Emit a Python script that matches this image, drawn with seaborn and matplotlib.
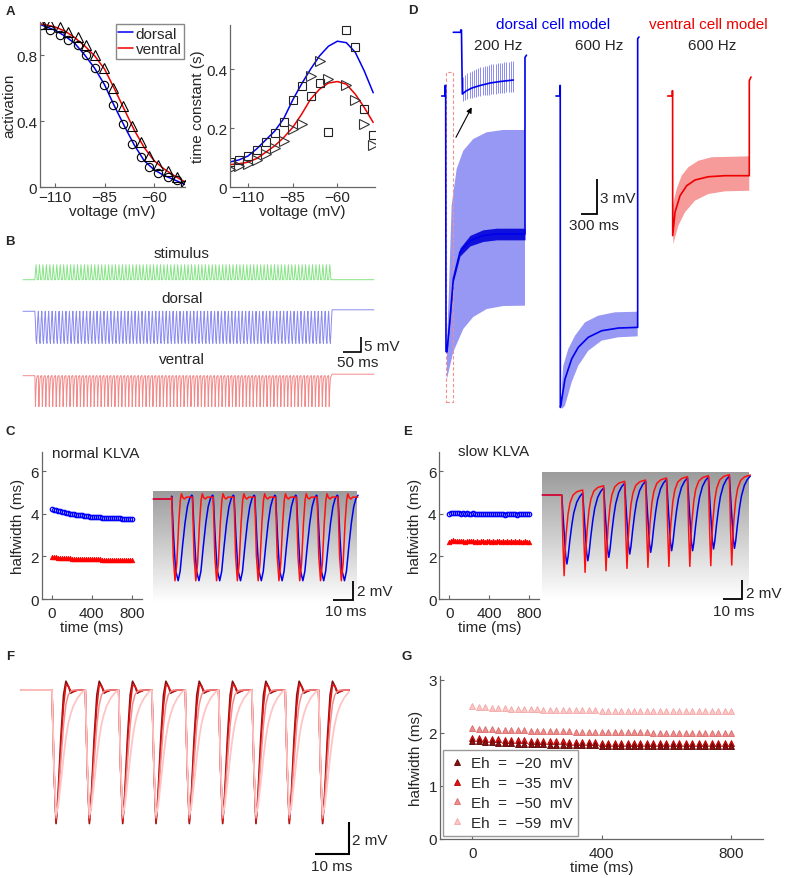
import numpy as np
import matplotlib
matplotlib.use("Agg")
import matplotlib.pyplot as plt
from matplotlib.colors import LinearSegmentedColormap
from matplotlib.lines import Line2D
from matplotlib.patches import Rectangle
import seaborn as sns

# ---------------- values ----------------
# A left: steady-state activation
act_volt = [-116.9, -112.5, -107.5, -103.3, -98.6, -94.3, -89.8, -85.1, -80.5,
            -75.8, -71.3, -66.7, -62.4, -57.8, -53.1, -48.5, -44.3]
act_dorsal = [0.98, 0.95, 0.92, 0.89, 0.86, 0.80, 0.72, 0.62, 0.50,
              0.38, 0.26, 0.18, 0.12, 0.085, 0.06, 0.04, 0.01]
act_ventral = [0.99, 0.99, 0.97, 0.94, 0.91, 0.86, 0.80, 0.72, 0.60,
               0.49, 0.37, 0.27, 0.19, 0.135, 0.10, 0.06, 0.01]
fit_act_volt = [-117.6, -110, -105, -100, -95, -90, -85, -80, -75, -70, -65, -60, -55, -50, -44.3]
fit_act_dorsal = [0.985, 0.95, 0.915, 0.87, 0.80, 0.72, 0.62, 0.49, 0.37, 0.255, 0.16, 0.105, 0.07, 0.045, 0.015]
fit_act_ventral = [0.99, 0.97, 0.945, 0.905, 0.855, 0.795, 0.715, 0.595, 0.47, 0.345, 0.24, 0.16, 0.11, 0.07, 0.03]

# A right: time constants (s)
tau_volt = [-120, -115, -110, -105, -100, -95, -90, -85, -80, -75, -70, -65, -55, -50, -45, -40]
tau_dorsal = [0.084, 0.093, 0.104, 0.126, 0.154, 0.185, 0.221, 0.296, 0.343, 0.310,
              0.353, 0.187, 0.533, 0.476, 0.264, 0.177]
tau_ventral = [0.061, 0.070, 0.078, 0.093, 0.112, 0.134, 0.157, 0.197, 0.214, 0.377,
               0.428, 0.366, 0.346, 0.295, 0.214, 0.143]
fit_tau_volt = [-120, -115, -110, -105, -100, -95, -90, -85, -80, -75, -70, -65, -60, -55, -50, -45, -40]
fit_tau_dorsal = [0.085, 0.092, 0.105, 0.13, 0.16, 0.19, 0.232, 0.295, 0.35, 0.40,
                  0.445, 0.478, 0.495, 0.49, 0.457, 0.394, 0.32]
fit_tau_ventral = [0.076, 0.079, 0.084, 0.097, 0.118, 0.14, 0.168, 0.202, 0.247, 0.298,
                   0.332, 0.353, 0.358, 0.349, 0.315, 0.27, 0.219]

# B: one cycle of each trace (ms, mV) and the train
b_cycle_t = [0, 1.6, 3.2, 4.8, 6.4, 8.0]
b_stim_cycle = [0, 2.5, 5.0, 2.5, 0.0, 0.0]
b_dorsal_cycle = [0, -4.0, -9.5, -10.7, -7.0, -2.5]
b_ventral_cycle = [0, -10.3, -4.0, -1.0, -0.2, 0.0]
b_onset, b_period, b_cycles, b_end = 33, 9.6, 86, 975
b_post = [0.0, 0.5, 0.5]

# C / E: halfwidth (ms) every 20 ms
hw_time = list(range(0, 801, 20))
c_dorsal = [4.21, 4.19, 4.17, 4.15, 4.12, 4.10, 4.08, 4.06, 4.03, 4.01,
            3.99, 3.98, 3.96, 3.95, 3.93, 3.92, 3.90, 3.89, 3.88, 3.87,
            3.86, 3.85, 3.84, 3.84, 3.83, 3.82, 3.81, 3.81, 3.80, 3.80,
            3.79, 3.79, 3.78, 3.78, 3.78, 3.77, 3.77, 3.76, 3.76, 3.76, 3.75]
c_ventral = [1.96, 1.95, 1.95, 1.94, 1.93, 1.93, 1.92, 1.92, 1.91, 1.91,
             1.90, 1.90, 1.89, 1.89, 1.89, 1.88, 1.88, 1.88, 1.87, 1.87,
             1.87, 1.86, 1.86, 1.86, 1.86, 1.85, 1.85, 1.85, 1.85, 1.84,
             1.84, 1.84, 1.84, 1.84, 1.83, 1.83, 1.83, 1.83, 1.83, 1.82, 1.82]
e_dorsal = [3.98, 4.03, 4.05, 4.04, 4.02, 4.04, 4.01, 4.03, 4.00, 4.02,
            3.99, 4.01, 4.02, 3.99, 4.01, 3.98, 4.00, 3.98, 4.01, 3.99,
            3.97, 4.00, 3.98, 3.97, 3.99, 4.00, 3.97, 3.99, 3.96, 3.98,
            4.00, 3.97, 3.99, 3.98, 3.96, 3.99, 4.00, 3.97, 3.98, 4.00, 3.98]
e_ventral = [2.66, 2.72, 2.75, 2.73, 2.71, 2.74, 2.70, 2.72, 2.69, 2.73,
             2.71, 2.70, 2.72, 2.69, 2.71, 2.68, 2.70, 2.72, 2.69, 2.71,
             2.70, 2.68, 2.71, 2.69, 2.70, 2.72, 2.68, 2.70, 2.69, 2.71,
             2.68, 2.70, 2.69, 2.71, 2.68, 2.70, 2.69, 2.67, 2.70, 2.69, 2.68]

# C: one cycle of the voltage traces (ms after drop, mV)
c_red_t = [0, 0.8, 1.7, 2.6, 3.6, 4.4, 5.0, 5.7, 6.5, 7.5, 10.0]
c_red_v = [0.2, -6.0, -8.6, -6.8, -2.5, -0.1, 0.55, 0.15, 0.0, 0.2, 0.2]
c_blue_t = [0, 1.0, 2.0, 3.3, 4.3, 5.5, 6.8, 8.0, 9.2, 10.2]
c_blue_v = [0.3, -4.0, -7.5, -8.6, -7.6, -5.0, -2.5, -0.8, 0.1, 0.4]
c_onset, c_period, c_cycles = 9.3, 10.56, 9

# E: per-cycle troughs and peaks (mV), normalised drop / recovery shapes
e_red_bottom = [-8.49, -8.14, -7.97, -7.72, -7.61, -7.51, -7.51, -7.44, -7.37]
e_red_peak = [0.53, 0.98, 1.44, 1.58, 1.79, 1.93, 2.03, 2.14, 2.10]
e_blue_bottom = [-7.26, -6.92, -6.56, -6.21, -6.03, -5.86, -5.86, -5.68, -5.61]
e_blue_peak = [0.20, 0.75, 1.25, 1.45, 1.65, 1.80, 1.90, 2.00, 2.00]
e_red_drop_t, e_red_drop_f = [0, 0.6, 1.2], [0, 0.6, 1.0]
e_red_rise_t = [0.5, 1.0, 2.0, 3.0, 4.5, 6.5, 9.44]
e_red_rise_f = [0.28, 0.48, 0.72, 0.85, 0.94, 0.98, 1.0]
e_blue_drop_t, e_blue_drop_f = [0, 1.0, 2.0, 2.6], [0, 0.45, 0.88, 1.0]
e_blue_rise_t = [0.6, 1.5, 2.5, 3.5, 5.0, 6.5, 8.04]
e_blue_rise_f = [0.10, 0.33, 0.55, 0.72, 0.87, 0.95, 1.0]
e_onset, e_period = 9.85, 10.64

# D: traces (ms from trace start, mV from rest)
d200_start_t, d200_start_v = [0, 62, 62, 75, 81], [0, 0, 0.9, 0.9, -21.9]
d200_mean_t = [99, 156, 218, 343, 531, 774, 1031, 1562]
d200_mean_v = [-21.94, -19.11, -15.69, -13.37, -12.40, -11.97, -11.83, -11.83]
d200_band = [0.05, 0.15, 0.25, 0.35, 0.45, 0.5, 0.5, 0.5]
d200_top_t = [99, 137, 187, 281, 405, 592, 844, 1156, 1562]
d200_top_v = [-21.26, -16.54, -9.40, -6.26, -4.69, -3.69, -3.11, -2.91, -2.91]
d200_bot_t = [99, 218, 405, 592, 844, 1156, 1562]
d200_bot_v = [-24.26, -21.94, -19.97, -18.94, -18.26, -18.0, -17.97]
d200_end_t, d200_end_v = [1562, 1590], [3.3, 3.5]

d600_start_t, d600_start_v = [0, 75, 75, 80, 82], [0, 0, 0.9, 0.9, -26.7]
d600_mean_t = [85, 169, 294, 418, 606, 857, 1168, 1532]
d600_mean_v = [-26.68, -24.26, -22.54, -21.54, -20.68, -20.12, -19.89, -19.83]
d600_top_t = [112, 137, 231, 356, 544, 793, 1106, 1532]
d600_top_v = [-24.77, -23.12, -21.69, -20.55, -19.40, -18.83, -18.54, -18.49]
d600_bot_t = [112, 169, 294, 418, 606, 857, 1168, 1532]
d600_bot_v = [-26.83, -26.54, -24.54, -23.12, -21.83, -20.97, -20.68, -20.60]
d600_end_t, d600_end_v = [1532, 1556], [4.9, 5.06]

v600_start_t, v600_start_v = [0, 86, 86, 92, 94], [0, 0, 0.45, 0.45, -11.97]
v600_mean_t = [94, 137, 231, 356, 512, 762, 1074, 1530]
v600_mean_v = [-11.97, -9.97, -8.55, -7.69, -7.20, -6.92, -6.83, -6.83]
v600_top_t = [94, 169, 262, 386, 574, 825, 1530]
v600_top_v = [-9.40, -7.97, -6.83, -6.11, -5.55, -5.25, -5.17]
v600_bot_t = [106, 199, 324, 512, 762, 1074, 1530]
v600_bot_v = [-12.69, -11.12, -9.97, -8.97, -8.40, -8.17, -8.12]
v600_end_t, v600_end_v = [1530, 1562], [1.31, 1.63]

# D inset (expanded start of the 200 Hz train)
inset_t = [0, 139, 139, 153, 169, 238, 351, 501, 688, 876, 1125]
inset_v = [0, 0, 0.2, 0.2, -5.29, -5.03, -4.77, -4.56, -4.35, -4.22, -4.09]
inset_spike_top = [-3.86, -3.66, -3.51, -3.41, -3.31, -3.21, -3.16, -3.06, -3.01, -2.96, -2.91, -2.86,
                   -2.81, -2.76, -2.74, -2.71, -2.66, -2.64, -2.61, -2.58, -2.56, -2.53, -2.50, -2.46]
inset_spike_bot = [-5.91, -5.81, -5.71, -5.66, -5.61, -5.56, -5.51, -5.46, -5.44, -5.41, -5.38, -5.36,
                   -5.34, -5.31, -5.29, -5.26, -5.24, -5.22, -5.20, -5.18, -5.16, -5.15, -5.13, -5.11]
inset_spike_first, inset_spike_step = 182, 40.7

# F: one cycle for each Eh (ms after drop, mV)
f_cycle_t = [0, 0.6, 1.2, 1.8, 2.6, 3.4, 4.1, 4.8, 5.5, 6.3, 7.5, 9.0]
f_eh20 = [0, -5.0, -8.35, -6.5, -3.0, -0.3, 0.55, 0.25, -0.2, -0.1, 0.0, 0.0]
f_eh35 = [0, -5.0, -8.25, -6.8, -3.6, -1.0, 0.30, 0.25, -0.05, -0.1, 0.0, 0.0]
f_eh50 = [0, -5.0, -8.0, -7.0, -4.5, -2.2, -0.9, -0.3, -0.1, 0.0, 0.0, 0.0]
f_eh59 = [0, -4.8, -7.8, -7.3, -5.8, -4.2, -3.0, -2.1, -1.5, -1.0, -0.5, -0.1]
f_onset, f_period, f_cycles = 9.2, 9.8, 9

# G: halfwidth (ms) every 20 ms for each Eh
g_labels = ["Eh  =  \u221220  mV", "Eh  =  \u221235  mV", "Eh  =  \u221250  mV", "Eh  =  \u221259  mV"]
g_eh20 = [1.85, 1.84, 1.83, 1.83, 1.82, 1.81, 1.81, 1.80, 1.80, 1.79,
          1.79, 1.79, 1.78, 1.78, 1.78, 1.77, 1.77, 1.77, 1.77, 1.77,
          1.76, 1.76, 1.76, 1.76, 1.76, 1.76, 1.76, 1.75, 1.75, 1.75,
          1.75, 1.75, 1.75, 1.75, 1.75, 1.75, 1.75, 1.75, 1.75, 1.75, 1.75]
g_eh35 = [1.91, 1.90, 1.89, 1.89, 1.88, 1.87, 1.87, 1.86, 1.86, 1.85,
          1.85, 1.85, 1.84, 1.84, 1.84, 1.83, 1.83, 1.83, 1.83, 1.83,
          1.82, 1.82, 1.82, 1.82, 1.82, 1.82, 1.82, 1.81, 1.81, 1.81,
          1.81, 1.81, 1.81, 1.81, 1.81, 1.81, 1.81, 1.81, 1.81, 1.81, 1.81]
g_eh50 = [2.09, 2.08, 2.08, 2.07, 2.06, 2.06, 2.05, 2.05, 2.05, 2.04,
          2.04, 2.04, 2.03, 2.03, 2.03, 2.03, 2.02, 2.02, 2.02, 2.02,
          2.02, 2.01, 2.01, 2.01, 2.01, 2.01, 2.01, 2.01, 2.00, 2.00,
          2.00, 2.00, 2.00, 2.00, 2.00, 2.00, 2.00, 2.00, 2.00, 2.00, 2.00]
g_eh59 = [2.50, 2.49, 2.49, 2.48, 2.47, 2.47, 2.46, 2.46, 2.45, 2.45,
          2.45, 2.44, 2.44, 2.44, 2.44, 2.43, 2.43, 2.43, 2.43, 2.43,
          2.42, 2.42, 2.42, 2.42, 2.42, 2.42, 2.42, 2.42, 2.41, 2.41,
          2.41, 2.41, 2.41, 2.41, 2.41, 2.41, 2.41, 2.41, 2.41, 2.41, 2.41]

# ---------------- style ----------------
BLUE, RED = "#0000ee", "#ee0000"
AX_GREY = "#666666"
EH_COLORS = ["#8a1010", "#e31212", "#f08c8c", "#ffc4c4"]
EH_EDGES = ["#5a0000", "#b00000", "#d86c6c", "#f0a8a8"]

sns.set_style("ticks")
plt.rcParams["font.family"] = ["Liberation Sans", "DejaVu Sans"]
plt.rcParams["font.size"] = 11

W, H = 785, 879
fig = plt.figure(figsize=(W / 100, H / 100), dpi=100)


def px_axes(x0, y0, x1, y1):
    return fig.add_axes([x0 / W, 1 - y1 / H, (x1 - x0) / W, (y1 - y0) / H])


def px_text(x, y, s, **kw):
    kw.setdefault("ha", "center")
    kw.setdefault("va", "center")
    kw.setdefault("fontsize", 11)
    fig.text(x / W, 1 - y / H, s, **kw)


def style_axes(ax, xpad=2):
    sns.despine(ax=ax)
    for side in ("left", "bottom"):
        ax.spines[side].set_color(AX_GREY)
        ax.spines[side].set_linewidth(0.9)
    ax.tick_params(direction="in", length=3, width=0.8, color=AX_GREY,
                   labelsize=11, pad=2)
    ax.tick_params(axis="x", pad=xpad)
    ax.patch.set_alpha(0)


def trace_axes(box, origin, sx, sy):
    x0, y0, x1, y1 = box
    ox, oy = origin
    ax = px_axes(x0, y0, x1, y1)
    ax.set_xlim((x0 - ox) / sx, (x1 - ox) / sx)
    ax.set_ylim((oy - y1) / sy, (oy - y0) / sy)
    ax.axis("off")
    return ax


def line(ax, x, y, color, lw=1.0, **kw):
    sns.lineplot(x=np.asarray(x, float), y=np.asarray(y, float), ax=ax, color=color,
                 linewidth=lw, estimator=None, sort=False, **kw)


def marks(ax, x, y, marker, ms, fc, ec, mew=0.8):
    sns.lineplot(x=np.asarray(x, float), y=np.asarray(y, float), ax=ax, color=ec,
                 estimator=None, sort=False, linestyle="none", marker=marker,
                 markersize=ms, markerfacecolor=fc, markeredgecolor=ec,
                 markeredgewidth=mew)


def tile_train(onset, period, n, cyc_t, cyc_v, post=None, end=None):
    ts, vs = [0.0, onset], [0.0, 0.0]
    for k in range(n):
        ts += [onset + k * period + dt for dt in cyc_t]
        vs += list(cyc_v)
    if post is not None:
        ts += [onset + n * period, end]
        vs += [post, post]
    return ts, vs


def recovery_train(onset, period, bottoms, peaks, drop_t, drop_f, rise_t, rise_f):
    ts, vs = [0.0, onset], [0.0, 0.0]
    prev = 0.0
    for k, (b, p) in enumerate(zip(bottoms, peaks)):
        start = onset + k * period
        for dt, f in zip(drop_t[1:], drop_f[1:]):
            ts.append(start + dt)
            vs.append(prev + (b - prev) * f)
        for dt, f in zip(rise_t, rise_f):
            ts.append(start + drop_t[-1] + dt)
            vs.append(b + (p - b) * f)
        prev = p
    return ts, vs


def scale_bar(ax, x_end, y_bot, dx, dy, lw=1.4):
    ax.plot([x_end - dx, x_end, x_end], [y_bot, y_bot, y_bot + dy], color="k",
            lw=lw, solid_joinstyle="miter", solid_capstyle="butt", clip_on=False)


grey_fade = LinearSegmentedColormap.from_list("fade", ["#9c9c9c", "#ffffff"])
fade_img = np.linspace(0, 1, 200).reshape(-1, 1)

# ---------------- A ----------------
axA1 = px_axes(40, 23, 185.3, 188)
line(axA1, fit_act_volt, fit_act_dorsal, BLUE, 1.1)
line(axA1, fit_act_volt, fit_act_ventral, RED, 1.1)
marks(axA1, act_volt, act_dorsal, "o", 6, "none", "black")
marks(axA1, act_volt, act_ventral, "^", 6.5, "none", "black")
axA1.set_xlim(-117.6, -44.2)
axA1.set_ylim(0, 1.0)
axA1.set_xticks([-110, -85, -60])
axA1.set_yticks([0, 0.4, 0.8], ["0", "0.4", "0.8"])
axA1.set_xlabel("voltage (mV)", labelpad=0)
axA1.set_ylabel("activation", labelpad=0)
style_axes(axA1)
axA1.legend(handles=[Line2D([], [], color=BLUE, lw=1.1), Line2D([], [], color=RED, lw=1.1)],
            labels=["dorsal", "ventral"], loc="upper right", bbox_to_anchor=(0.99, 0.985),
            borderaxespad=0, fontsize=11, handlelength=0.95, handletextpad=0.2,
            borderpad=0.15, labelspacing=0.1, fancybox=False, framealpha=1,
            edgecolor="#888888")

axA2 = px_axes(230, 26, 375, 188)
line(axA2, fit_tau_volt, fit_tau_dorsal, BLUE, 1.1)
line(axA2, fit_tau_volt, fit_tau_ventral, RED, 1.1)
marks(axA2, tau_volt, tau_dorsal, "s", 5.5, "none", "#222222")
marks(axA2, tau_volt, tau_ventral, ">", 6.5, "none", "#333333")
axA2.set_xlim(-120, -39)
axA2.set_ylim(0, 0.55)
axA2.set_xticks([-110, -85, -60])
axA2.set_yticks([0, 0.2, 0.4], ["0", "0.2", "0.4"])
axA2.set_xlabel("voltage (mV)", labelpad=0)
axA2.set_ylabel("time constant (s)", labelpad=1)
style_axes(axA2)

# ---------------- B ----------------
axB = trace_axes((15, 240, 385, 420), (23, 280.7), 0.36, 3.0)
b_offsets = [0.0, -10.53, -32.0]
b_colors = ["#86e486", "#8a8af2", "#f28a8a"]
for cyc, off, col, post in zip([b_stim_cycle, b_dorsal_cycle, b_ventral_cycle],
                               b_offsets, b_colors, b_post):
    t, v = tile_train(b_onset, b_period, b_cycles, b_cycle_t, cyc, post, b_end)
    line(axB, t, np.asarray(v) + off, col, 0.7)
scale_bar(axB, 939, -24.1, 50, 5, lw=1.2)
px_text(182, 254, "stimulus")
px_text(182, 299, "dorsal")
px_text(182, 360, "ventral")
px_text(364, 347, "5 mV", ha="left")
px_text(358, 363, "50 ms")

# ---------------- C ----------------
axC = px_axes(41.7, 453, 141.7, 600)
marks(axC, hw_time, c_dorsal, "o", 3.2, "none", "#0000ff", 0.9)
marks(axC, hw_time, c_ventral, "^", 3.2, "#ff0000", "#ff0000", 0.6)
axC.set_xlim(-100, 900)
axC.set_ylim(0, 6.9)
axC.set_xticks([0, 400, 800])
axC.set_yticks([0, 2, 4, 6])
axC.set_xlabel("time (ms)", labelpad=0)
axC.set_ylabel("halfwidth (ms)", labelpad=4)
style_axes(axC, xpad=5)
px_text(96, 454, "normal KLVA")

axCt = trace_axes((150, 488, 365, 615), (153.3, 500), 1.97, 9.5)
axCt.imshow(fade_img, extent=[0, 103.2, -10.8, 0.87], aspect="auto", cmap=grey_fade,
            vmin=0, vmax=1, zorder=0)
t, v = tile_train(c_onset, c_period, c_cycles, c_blue_t, c_blue_v)
line(axCt, t, v, BLUE, 1.1)
t, v = tile_train(c_onset, c_period, c_cycles, c_red_t, c_red_v)
line(axCt, t, v, "#ff1010", 1.1)
axCt.set_xlim(-1.7, 107.5)
scale_bar(axCt, 101.2, -10.63, 10, 2, lw=1.3)
px_text(357, 592, "2 mV", ha="left")
px_text(346, 612, "10 ms")

# ---------------- D ----------------
axD = trace_axes((430, 20, 770, 412), (430, 97), 0.05333, 11.667)
d_offsets = [219, 2362, 4457]
LIGHT_BLUE, LIGHT_RED = "#9797f4", "#f69a9a"

o = d_offsets[0]
axD.fill(np.r_[d200_top_t, d200_bot_t[::-1]] + o, np.r_[d200_top_v, d200_bot_v[::-1]],
         color=LIGHT_BLUE, lw=0)
axD.fill_between(np.asarray(d200_mean_t) + o, np.asarray(d200_mean_v) - d200_band,
                 np.asarray(d200_mean_v) + d200_band, color="#1010dd", lw=0)
line(axD, np.r_[d200_start_t, d200_mean_t, d200_end_t] + o,
     np.r_[d200_start_v, d200_mean_v, d200_end_v], BLUE, 1.2)

o = d_offsets[1]
axD.fill(np.r_[d600_top_t, d600_bot_t[::-1]] + o, np.r_[d600_top_v, d600_bot_v[::-1]],
         color=LIGHT_BLUE, lw=0)
line(axD, np.r_[d600_start_t, d600_mean_t, d600_end_t] + o,
     np.r_[d600_start_v, d600_mean_v, d600_end_v], BLUE, 1.2)

o = d_offsets[2]
axD.fill(np.r_[v600_top_t, v600_bot_t[::-1]] + o, np.r_[v600_top_v, v600_bot_v[::-1]],
         color=LIGHT_RED, lw=0)
line(axD, np.r_[v600_start_t, v600_mean_t, v600_end_t] + o,
     np.r_[v600_start_v, v600_mean_v, v600_end_v], RED, 1.2)

# inset of the 200 Hz onset
ix, iy = 437, 5.46
spike_t = [ix + inset_spike_first + k * inset_spike_step for k in range(len(inset_spike_top))]
axD.vlines(spike_t, np.asarray(inset_spike_bot) + iy, np.asarray(inset_spike_top) + iy,
           color="#8c8cf2", lw=0.7)
line(axD, np.asarray(inset_t) + ix, np.asarray(inset_v) + iy, BLUE, 1.2)
axD.annotate("", xy=(782, -0.97), xytext=(487, -3.54),
             arrowprops=dict(arrowstyle="-|>", color="k", lw=0.8, mutation_scale=8,
                             shrinkA=0, shrinkB=0))
axD.add_patch(Rectangle((300, -26.23), 126, 28.31, fill=False, ec="#f29090",
                        ls=(0, (3, 2)), lw=0.8))
scale_bar(axD, 3137, -10.11, 300, 3, lw=1.3)

px_text(553, 25, "dorsal cell model", color=BLUE)
px_text(708, 25, "ventral cell model", color=RED)
px_text(498, 46, "200 Hz")
px_text(599, 46, "600 Hz")
px_text(712, 46, "600 Hz")
px_text(600, 199, "3 mV", ha="left")
px_text(594, 226, "300 ms")

# ---------------- E ----------------
axE = px_axes(439.3, 453, 539.3, 600)
marks(axE, hw_time, e_dorsal, "o", 3.2, "none", "#0000ff", 0.9)
marks(axE, hw_time, e_ventral, "^", 3.2, "#ff0000", "#ff0000", 0.6)
axE.set_xlim(-100, 900)
axE.set_ylim(0, 6.9)
axE.set_xticks([0, 400, 800])
axE.set_yticks([0, 2, 4, 6])
axE.set_xlabel("time (ms)", labelpad=0)
axE.set_ylabel("halfwidth (ms)", labelpad=4)
style_axes(axE, xpad=5)
px_text(494, 452, "slow KLVA")

axEt = trace_axes((540, 470, 770, 615), (542.3, 496), 1.97, 9.5)
axEt.imshow(fade_img, extent=[0, 104.9, -10.9, 2.39], aspect="auto", cmap=grey_fade,
            vmin=0, vmax=1, zorder=0)
t, v = recovery_train(e_onset, e_period, e_blue_bottom, e_blue_peak,
                      e_blue_drop_t, e_blue_drop_f, e_blue_rise_t, e_blue_rise_f)
line(axEt, t, v, BLUE, 1.1)
t, v = recovery_train(e_onset, e_period, e_red_bottom, e_red_peak,
                      e_red_drop_t, e_red_drop_f, e_red_rise_t, e_red_rise_f)
line(axEt, t, v, "#ff1010", 1.1)
axEt.set_xlim(-1.2, 115.6)
scale_bar(axEt, 101.5, -10.95, 10, 2, lw=1.3)
px_text(746, 594, "2 mV", ha="left")
px_text(734, 612, "10 ms")

# ---------------- F ----------------
# darkest first so the slower, paler traces sit on top as in the original
axF = trace_axes((15, 660, 385, 875), (20.7, 691), 3.4, 16.0)
for cyc, col, lw in zip([f_eh20, f_eh35, f_eh50, f_eh59], EH_COLORS, [1.2, 1.1, 1.1, 1.3]):
    t, v = tile_train(f_onset, f_period, f_cycles, f_cycle_t, cyc)
    line(axF, t, v, col, lw)
scale_bar(axF, 96.6, -10.25, 10, 2, lw=1.5)
px_text(352, 841, "2 mV", ha="left")
px_text(332, 867, "10 ms")

# ---------------- G ----------------
axG = px_axes(440, 676.7, 763.3, 840)
for vals, col, ec in zip([g_eh59, g_eh50, g_eh35, g_eh20], EH_COLORS[::-1], EH_EDGES[::-1]):
    marks(axG, hw_time, vals, "^", 4.2, col, ec, 0.6)
axG.set_xlim(-100, 900)
axG.set_ylim(0, 3.08)
axG.set_xticks([0, 400, 800])
axG.set_yticks([0, 1, 2, 3])
axG.set_xlabel("time (ms)", labelpad=0)
axG.set_ylabel("halfwidth (ms)", labelpad=4)
style_axes(axG, xpad=5)
g_handles = [Line2D([], [], linestyle="none", marker="^", markersize=4,
                    markerfacecolor=c, markeredgecolor=e, markeredgewidth=0.6)
             for c, e in zip(EH_COLORS, EH_EDGES)]
axG.legend(handles=g_handles, labels=g_labels, loc="lower left", bbox_to_anchor=(0.01, 0.02),
           borderaxespad=0, fontsize=11, handlelength=1.0, handletextpad=0.4,
           borderpad=0.4, labelspacing=0.38, fancybox=False, framealpha=1,
           edgecolor="#999999")

# ---------------- panel letters ----------------
for letter, (x, y) in {"A": (10, 12), "B": (10, 242), "C": (10, 432), "D": (413, 11),
                       "E": (408, 432), "F": (10, 657), "G": (407, 657)}.items():
    px_text(x, y, letter, fontsize=9.5, fontweight="bold")

fig.savefig("out.png", dpi=100)
